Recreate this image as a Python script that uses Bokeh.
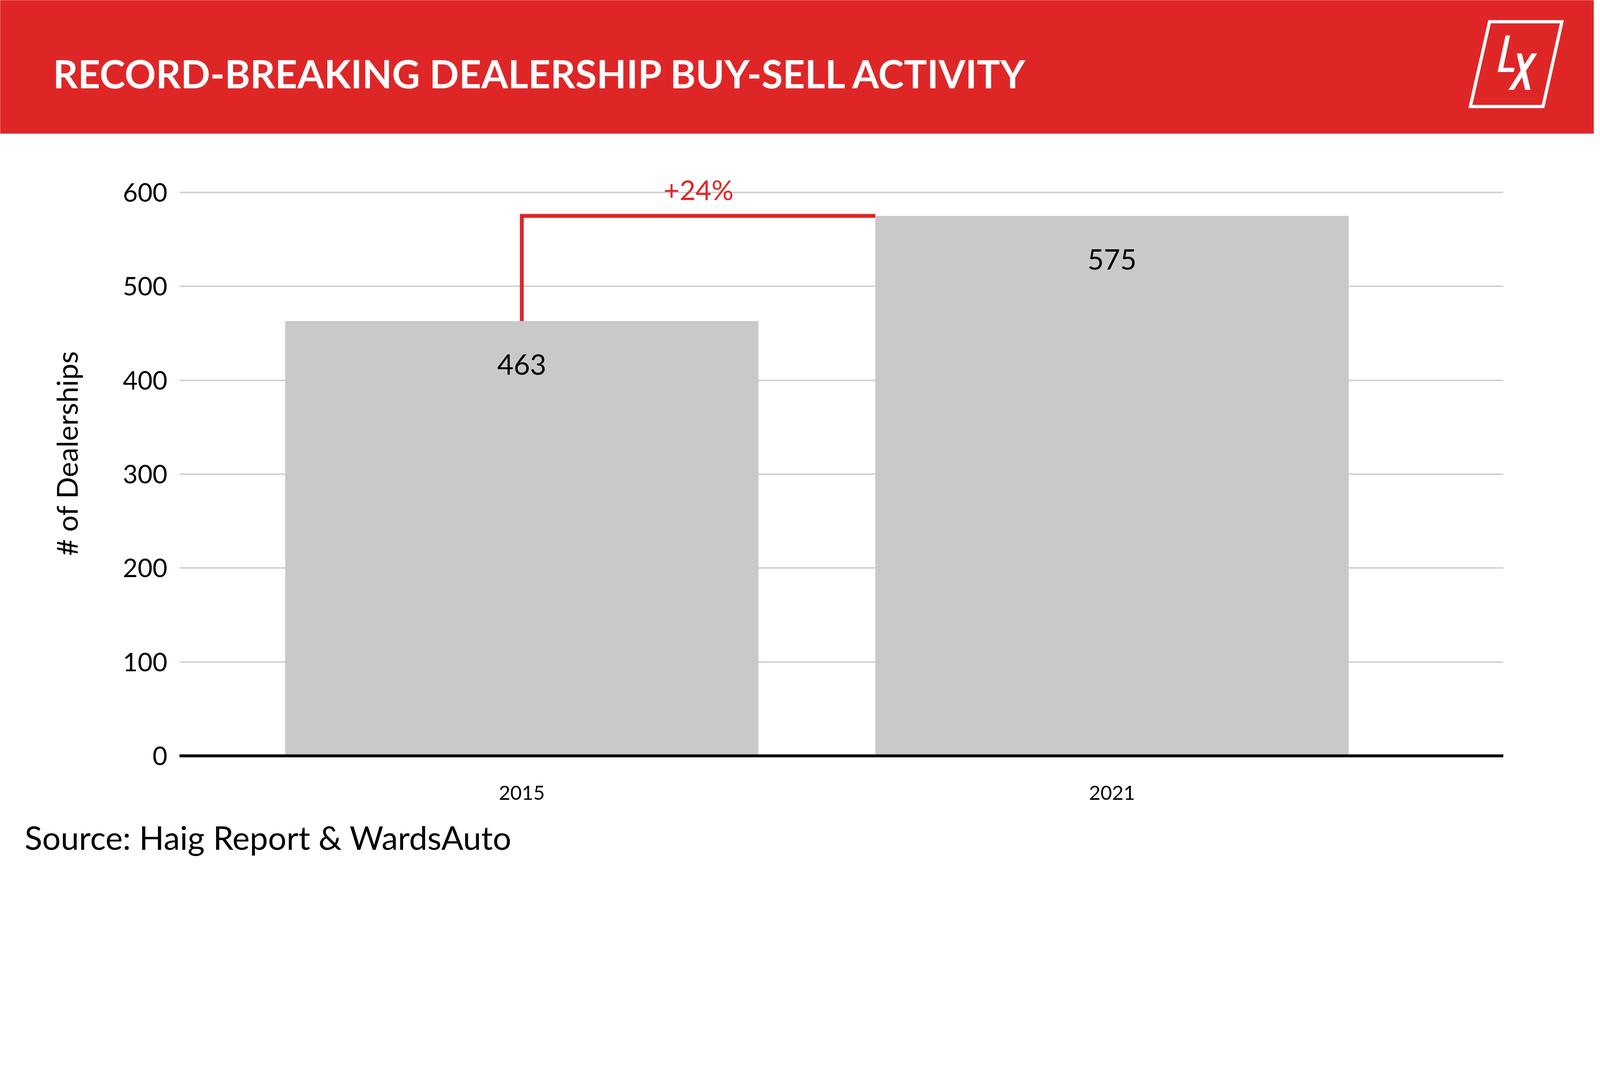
from bokeh.plotting import figure
from bokeh.models import Range1d, FixedTicker, ColumnDataSource
from bokeh.layouts import column
from bokeh.embed import file_html
from bokeh.resources import INLINE
from bokeh.core.properties import value

# ---------------- data ----------------
title_text = "RECORD-BREAKING DEALERSHIP BUY-SELL ACTIVITY"
categories = ["2015", "2021"]
dealerships = [463, 575]
y_ticks = [0, 100, 200, 300, 400, 500, 600]
y_label = "# of Dealerships"
source_note = "Source: Haig Report & WardsAuto"

# ---------------- style / layout ----------------
RED = "#DF2627"
BAR = "#C9C9C9"
GRID = "#CCCCCC"
FONT = "Lato"

K = 4096 / 5000          # css px per reference px
M = 8                    # page margin (css px)
W = 4096 - 2 * M         # figure width (css px)

def px(v):
    return f"{v * K:.1f}px"

HDR_BOT = round(427 * K)
FTR_TOP = round(2560 * K)
PAGE_BOT = round(2759 * K) - M


def blank(top, bottom):
    f = figure(width=W, height=bottom - top,
               x_range=Range1d(M / K, (M + W) / K), y_range=Range1d(bottom / K, top / K),
               output_backend="svg", toolbar_location=None, tools="",
               x_axis_location=None, y_axis_location=None, min_border=0,
               outline_line_color=None, frame_align=False)
    f.xgrid.visible = False
    f.ygrid.visible = False
    return f

# ---------------- header ----------------
hdr = blank(M, HDR_BOT)
hdr.background_fill_color = RED
hdr.border_fill_color = RED
hdr.text(x=[175], y=[238], text=[title_text], text_color="white",
         text_font=value(FONT), text_font_style="bold", text_font_size=px(121),
         text_baseline="alphabetic", text_align="left")
# logo (decoration)
hdr.patch([4664, 4890, 4831, 4604], [77, 77, 342, 342], fill_color=None,
          line_color="white", line_width=10 * K, line_join="miter")
hdr.patches(
    [[4714, 4728, 4707, 4742, 4740, 4689],
     [4749, 4765, 4792, 4775],
     [4795, 4813, 4740, 4723]],
    [[120, 120, 221, 221, 234, 234],
     [176, 176, 290, 290],
     [176, 176, 290, 290]],
    fill_color="white", line_color=None)

# ---------------- chart ----------------
FR_L, FR_R, FR_T, FR_B = round(570 * K), round(4707 * K), round(480 * K), 2370.5 * K
ch_h = FTR_TOP - HDR_BOT
mb_top = FR_T - HDR_BOT
mb_bot = int(FTR_TOP - FR_B)
frame_top_ref = (HDR_BOT + mb_top) / K
frame_bot_ref = (FTR_TOP - mb_bot) / K
y_end = (frame_bot_ref - frame_top_ref) / 2.934

p = figure(width=W, height=ch_h, x_range=Range1d(-0.58, 1.663), y_range=Range1d(0, y_end),
           output_backend="svg", toolbar_location=None, tools="",
           min_border_left=FR_L - M, min_border_right=(M + W) - FR_R,
           min_border_top=mb_top, min_border_bottom=mb_bot,
           outline_line_color=None, background_fill_color="white", border_fill_color="white",
           frame_align=False)

xs = list(range(len(categories)))
bar_w = 0.802
src = ColumnDataSource(dict(x=xs, top=dealerships, label=[str(v) for v in dealerships]))
p.vbar(x="x", top="top", width=bar_w, bottom=0, source=src, fill_color=BAR, line_color=None)
p.text(x="x", y="top", text="label", source=src, text_align="center", text_baseline="middle",
       y_offset=136 * K, text_font_size=px(88), text_font=value(FONT), text_color="black")

# change connector
cx = [xs[0], xs[0], xs[1] - bar_w / 2]
cy = [dealerships[0], dealerships[1], dealerships[1]]
p.line(cx, cy, line_color=RED, line_width=12 * K, line_join="miter")
pct = round((dealerships[1] - dealerships[0]) / dealerships[0] * 100)
p.text(x=[(cx[0] + cx[2]) / 2], y=[dealerships[1]], text=[f"+{pct}%"], y_offset=-83 * K,
       text_align="center", text_baseline="middle", text_font_size=px(86),
       text_font=value(FONT), text_color=RED)

# axes
p.xaxis.ticker = FixedTicker(ticks=xs)
p.xaxis.major_label_overrides = {i: c for i, c in zip(xs, categories)}
p.xaxis.axis_line_color = "black"
p.xaxis.axis_line_width = 9 * K
p.xaxis.major_tick_line_color = None
p.xaxis.minor_tick_line_color = None
p.xaxis.major_label_text_font_size = px(62)
p.xaxis.major_label_text_font = FONT
p.xaxis.major_label_text_color = "black"
p.xaxis.major_label_standoff = round(85 * K)

p.yaxis.ticker = FixedTicker(ticks=y_ticks)
p.yaxis.axis_line_color = None
p.yaxis.major_tick_line_color = None
p.yaxis.minor_tick_line_color = None
p.yaxis.major_label_text_font_size = px(80)
p.yaxis.major_label_text_font = FONT
p.yaxis.major_label_text_color = "black"
p.yaxis.major_label_standoff = round(31 * K)
p.yaxis.axis_label = y_label
p.yaxis.axis_label_text_font = FONT
p.yaxis.axis_label_text_font_size = px(90)
p.yaxis.axis_label_text_font_style = "normal"
p.yaxis.axis_label_text_color = "black"
p.yaxis.axis_label_standoff = round(118 * K)

p.xgrid.grid_line_color = None
p.ygrid.grid_line_color = GRID
p.ygrid.grid_line_width = 4 * K

# ---------------- footer ----------------
ftr = blank(FTR_TOP, PAGE_BOT)
ftr.background_fill_color = "white"
ftr.border_fill_color = "white"
ftr.text(x=[86], y=[2624], text=[source_note], text_color="black",
         text_font=value(FONT), text_font_size=px(102),
         text_baseline="alphabetic", text_align="left")

layout = column(hdr, p, ftr, spacing=0)
open("out.html", "w").write(file_html(layout, INLINE))
